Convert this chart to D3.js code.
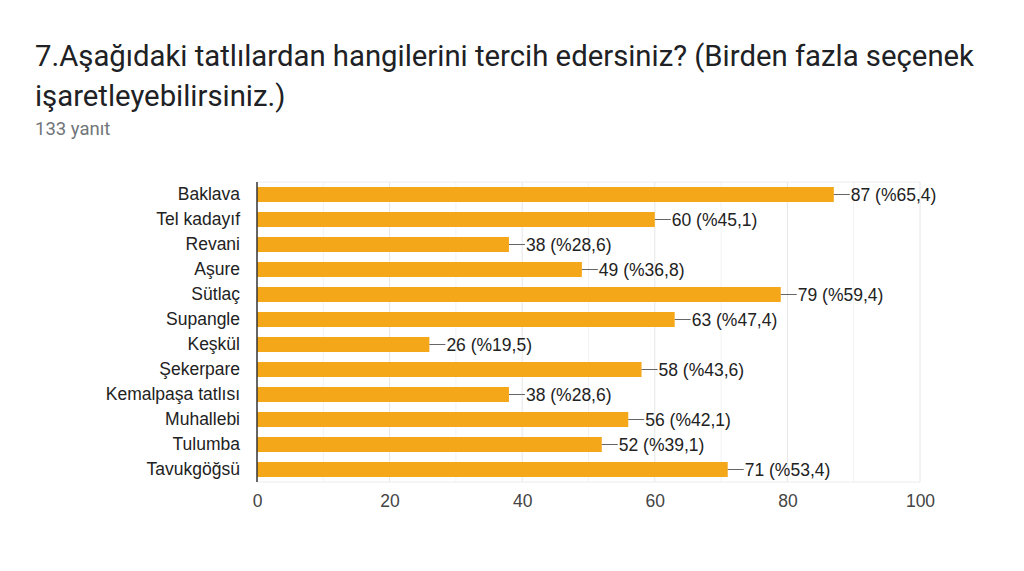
<!DOCTYPE html>
<html><head><meta charset="utf-8">
<script src="https://cdn.jsdelivr.net/npm/d3@7"></script>
<style>body{margin:0;background:#fff;font-family:Roboto,Arial,sans-serif;}</style>
</head><body><svg id="c" width="1024" height="571"></svg>
<script>
const categories = ["Baklava","Tel kadayıf","Revani","Aşure","Sütlaç","Supangle","Keşkül","Şekerpare","Kemalpaşa tatlısı","Muhallebi","Tulumba","Tavukgöğsü"];
const counts = [87,60,38,49,79,63,26,58,38,56,52,71];
const percents = ["65,4","45,1","28,6","36,8","59,4","47,4","19,5","43,6","28,6","42,1","39,1","53,4"];
const xTicks = [0,20,40,60,80,100];
const minorTicks = [10,30,50,70,90];

const LF = "'Liberation Sans',Arial,sans-serif";
const svg = d3.select("#c");
svg.append("text").attr("x",35).attr("y",66).attr("font-size",29.3).attr("fill","#202124")
  .text("7.Aşağıdaki tatlılardan hangilerini tercih edersiniz? (Birden fazla seçenek");
svg.append("text").attr("x",35).attr("y",106).attr("font-size",29.3).attr("fill","#202124")
  .text("işaretleyebilirsiniz.)");
svg.append("text").attr("x",35).attr("y",135).attr("font-size",18.5).attr("fill","#70757a").text("133 yanıt");

const L=257,R=920,T=182,B=482;
const x = d3.scaleLinear().domain([0,100]).range([L,R]);
const y = d3.scaleBand().domain(categories).range([T,B]).paddingInner(0.4).paddingOuter(0.2);

const g = svg.append("g");
g.selectAll("line.minor").data(minorTicks).join("line").attr("x1",d=>x(d)).attr("x2",d=>x(d)).attr("y1",T).attr("y2",B).attr("stroke","#f2f2f2");
g.selectAll("line.major").data(xTicks.slice(1)).join("line").attr("x1",d=>x(d)).attr("x2",d=>x(d)).attr("y1",T).attr("y2",B).attr("stroke","#e6e6e6");
g.append("line").attr("x1",L).attr("x2",R).attr("y1",T).attr("y2",T).attr("stroke","#ececec");
g.append("line").attr("x1",L).attr("x2",R).attr("y1",B).attr("y2",B).attr("stroke","#ececec");

g.selectAll("rect").data(counts).join("rect")
  .attr("x",x(0)).attr("y",(d,i)=>y(categories[i])).attr("width",d=>x(d)-x(0)).attr("height",y.bandwidth()).attr("fill","#f5a71a");

g.append("line").attr("x1",L).attr("x2",L).attr("y1",T).attr("y2",B).attr("stroke","#333").attr("stroke-width",1.5);

counts.forEach((d,i)=>{
  const cy = y(categories[i])+y.bandwidth()/2;
  g.append("line").attr("x1",x(d)).attr("x2",x(d)+16).attr("y1",cy).attr("y2",cy).attr("stroke","#666");
  g.append("text").attr("x",x(d)+17).attr("y",cy).attr("dy","0.36em").attr("font-size",17.5).attr("fill","#222")
    .attr("font-family",LF).text(`${d} (%${percents[i]})`);
});

const yAxis = d3.axisLeft(y).tickSize(0).tickPadding(17);
const ya = svg.append("g").attr("transform",`translate(${L},0)`).call(yAxis);
ya.select(".domain").remove();
ya.selectAll("text").attr("font-size",17.5).attr("fill","#222").attr("font-family",LF);

const xAxis = d3.axisBottom(x).tickValues(xTicks).tickSize(0).tickPadding(13);
const xa = svg.append("g").attr("transform",`translate(0,${B})`).call(xAxis);
xa.select(".domain").remove();
xa.selectAll("text").attr("font-size",17.5).attr("fill","#444").attr("font-family",LF);
</script></body></html>
